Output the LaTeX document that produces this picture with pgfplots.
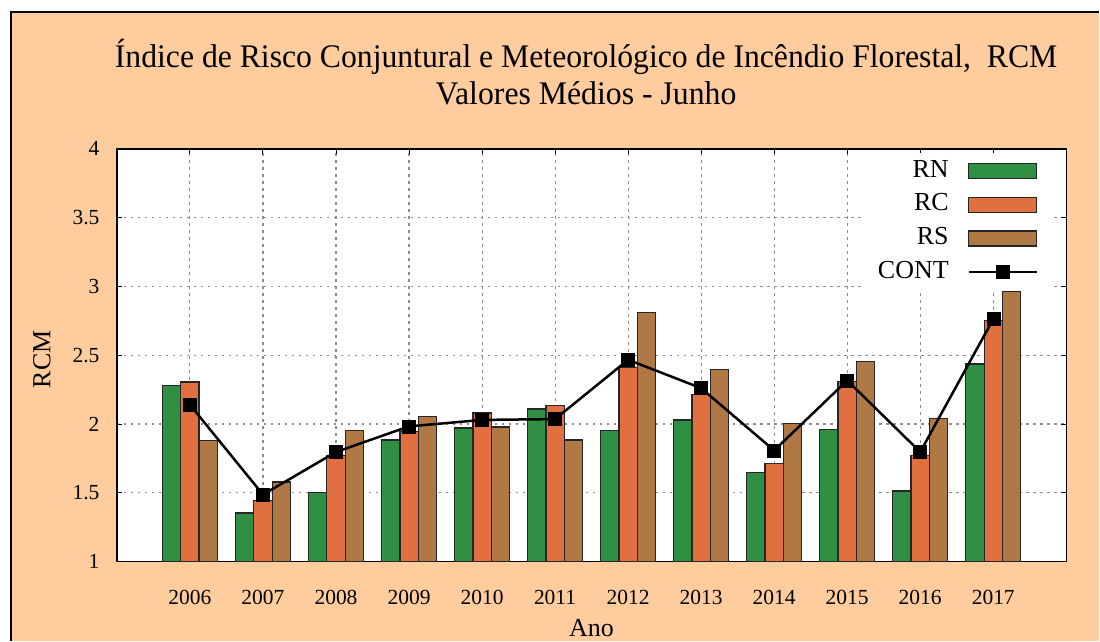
\documentclass[border=0pt]{standalone}
\usepackage{fontspec}
\setmainfont{Liberation Serif}
\usepackage{graphicx}
\usepackage{pgfplots}
\pgfplotsset{compat=1.18}
\definecolor{peach}{HTML}{FFCC9E}
\definecolor{rn}{HTML}{2F8F44}
\definecolor{rc}{HTML}{E07040}
\definecolor{rs}{HTML}{B07844}
\pgfplotsset{
  barleg/.style={legend image code/.code={\draw[##1] (0bp,-7.5bp) rectangle (68bp,7.5bp);}},
  contleg/.style={legend image code/.code={\draw[mark repeat=2, mark phase=2, ##1] plot coordinates {(0bp,0bp) (34bp,0bp) (68bp,0bp)};}},
}
\begin{document}
\begin{tikzpicture}
\fill[white] (0,0) rectangle (1100bp,641bp);
\fill[peach] (11bp,0) rectangle (1100bp,629bp);
\draw[black, line width=1.5bp] (11bp,0) -- (11bp,629bp) -- (1100bp,629bp);
\node[anchor=base, inner sep=0pt] at (586.5bp,573bp) {\resizebox{943bp}{\height}{\fontsize{33bp}{36bp}\selectfont Índice de Risco Conjuntural e Meteorológico de Incêndio Florestal,\ \ RCM}};
\node[anchor=base, inner sep=0pt] at (586.5bp,536bp) {\resizebox{301bp}{\height}{\fontsize{33bp}{36bp}\selectfont Valores Médios - Junho}};
\begin{axis}[
  at={(117bp,79bp)}, anchor=south west, scale only axis,
  width=950bp, height=413bp,
  xmin=-1, xmax=12, ymin=1, ymax=4,
  xtick={0,1,2,3,4,5,6,7,8,9,10,11},
  xticklabels={2006,2007,2008,2009,2010,2011,2012,2013,2014,2015,2016,2017},
  ytick={1,1.5,2,2.5,3,3.5,4},
  /pgf/number format/assume math mode=true,
  tick label style={font=\fontsize{21.5bp}{24bp}\selectfont},
  xticklabel style={yshift=-25bp},
  yticklabel style={xshift=-14bp},
  grid=major,
  grid style={dash pattern=on 2.5bp off 4.5bp, black!45, line width=1.1bp},
  tick align=inside, major tick length=5bp,
  tick style={black, line width=1bp},
  axis line style={line width=1.5bp},
  axis background/.style={fill=white},
  xlabel={Ano}, ylabel={RCM},
  every axis x label/.style={at={(rel axis cs:0.5,0)}, anchor=center, yshift=-66bp, font=\fontsize{26bp}{30bp}\selectfont},
  every axis y label/.style={at={(rel axis cs:0,0.5)}, anchor=center, xshift=-75bp, yshift=-4bp, rotate=90, font=\fontsize{26bp}{30bp}\selectfont},
  legend plot pos=right,
  legend cell align=right,
  legend style={draw=none, fill=white, anchor=north east, at={(rel axis cs:1,1)},
    xshift=-15bp, yshift=-4bp, inner xsep=13bp, inner ysep=6bp,
    font=\fontsize{26bp}{30bp}\selectfont, row sep=9.7bp, column sep=19bp,
    nodes={inner sep=0pt, text height=18bp, text depth=6bp}},
]
\addplot[ybar, bar width=0.25, bar shift=-0.25, fill=rn, draw=black!85, line width=1.2bp, barleg] coordinates {
(0,2.28) (1,1.354) (2,1.50) (3,1.884) (4,1.971) (5,2.109) (6,1.951) (7,2.029) (8,1.646) (9,1.963) (10,1.513) (11,2.436)};
\addlegendentry{RN}
\addplot[ybar, bar width=0.25, bar shift=0, fill=rc, draw=black!85, line width=1.2bp, barleg] coordinates {
(0,2.305) (1,1.443) (2,1.77) (3,1.946) (4,2.08) (5,2.133) (6,2.41) (7,2.213) (8,1.712) (9,2.31) (10,1.77) (11,2.75)};
\addlegendentry{RC}
\addplot[ybar, bar width=0.25, bar shift=0.25, fill=rs, draw=black!85, line width=1.2bp, barleg] coordinates {
(0,1.88) (1,1.579) (2,1.951) (3,2.055) (4,1.978) (5,1.884) (6,2.808) (7,2.399) (8,2.002) (9,2.455) (10,2.043) (11,2.963)};
\addlegendentry{RS}
\addplot[black, line width=2.5bp, mark=square*, mark size=6.5bp, mark options={line width=0.5bp}, contleg] coordinates {
(0,2.14) (1,1.487) (2,1.797) (3,1.983) (4,2.03) (5,2.036) (6,2.467) (7,2.261) (8,1.808) (9,2.317) (10,1.797) (11,2.763)};
\addlegendentry{CONT}
\end{axis}
\end{tikzpicture}
\end{document}
